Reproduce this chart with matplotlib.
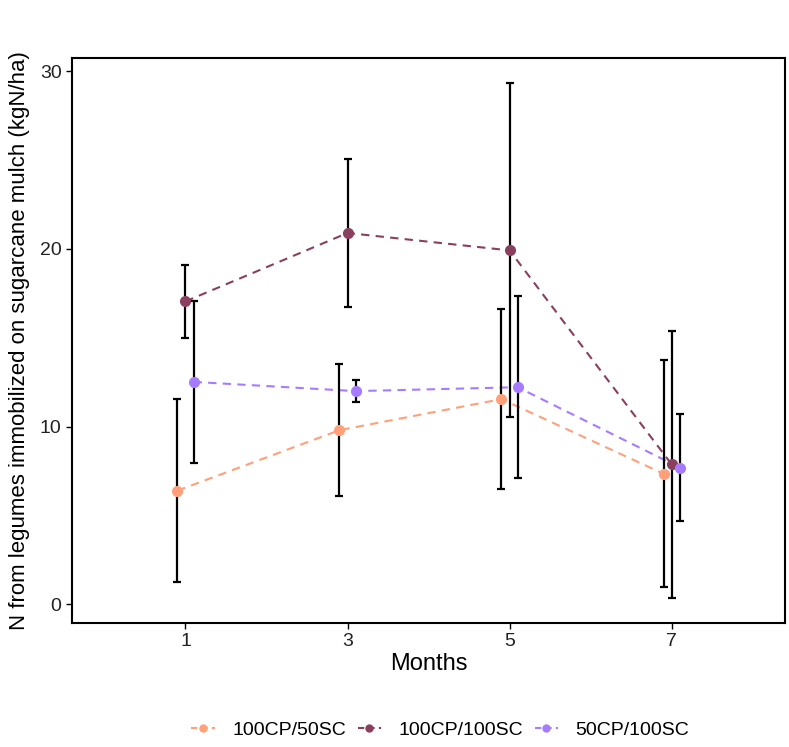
import matplotlib
matplotlib.use("Agg")
import matplotlib.pyplot as plt
from matplotlib.lines import Line2D
import numpy as np

plt.rcParams["font.family"] = ["Liberation Sans", "DejaVu Sans"]

months = [1, 3, 5, 7]
series_names = ["100CP/50SC", "100CP/100SC", "50CP/100SC"]
mean_100cp_50sc = [6.4, 9.8, 11.55, 7.35]
err_100cp_50sc = [5.15, 3.7, 5.05, 6.4]
mean_100cp_100sc = [17.05, 20.9, 19.92, 7.88]
err_100cp_100sc = [2.05, 4.15, 9.4, 7.52]
mean_50cp_100sc = [12.52, 12.0, 12.22, 7.7]
err_50cp_100sc = [4.55, 0.6, 5.13, 3.0]
colors = ["#FFA07A", "#8B3F5E", "#A77BFF"]
dodge = [-0.1, 0.0, 0.1]

means = [mean_100cp_50sc, mean_100cp_100sc, mean_50cp_100sc]
errs = [err_100cp_50sc, err_100cp_100sc, err_50cp_100sc]

fig = plt.figure(figsize=(7.89, 7.47), dpi=100)
ax = fig.add_axes([0.0913, 0.166, 0.9037, 0.7564])

for name, m, e, c, d in zip(series_names, means, errs, colors, dodge):
    x = np.array(months) + d
    ax.plot(x, m, linestyle=(0, (4, 3)), color=c, lw=1.5, zorder=2)
    ax.errorbar(x, m, yerr=e, fmt="none", ecolor="black", elinewidth=1.6,
                capsize=3, capthick=1.6, zorder=3)
    ax.plot(x, m, "o", color=c, ms=7, zorder=4)

ax.set_xlim(-0.4, 8.4)
ax.set_ylim(-1.05, 30.75)
ax.set_xticks(months)
ax.set_xticklabels([str(v) for v in months])
ax.set_yticks([0, 10, 20, 30])
for s in ax.spines.values():
    s.set_linewidth(1.5)
    s.set_color("black")
ax.tick_params(axis="both", labelsize=14, length=4, width=1, colors="black")
ax.tick_params(axis="both", labelcolor="#222222")
ax.set_xlabel("Months", fontsize=17, labelpad=2)
ax.set_ylabel("N from legumes immobilized on sugarcane mulch (kgN/ha)", fontsize=16, labelpad=7)

handles = [Line2D([0], [0], color=c, linestyle=(0, (3, 2)), lw=1.5, marker="o", ms=5)
           for c in colors]
fig.legend(handles, series_names, loc="center", bbox_to_anchor=(0.558, 0.023), ncol=3,
           frameon=False, fontsize=14, handlelength=1.2, columnspacing=0.6, handletextpad=0.9)

fig.savefig("out.png", dpi=100)
